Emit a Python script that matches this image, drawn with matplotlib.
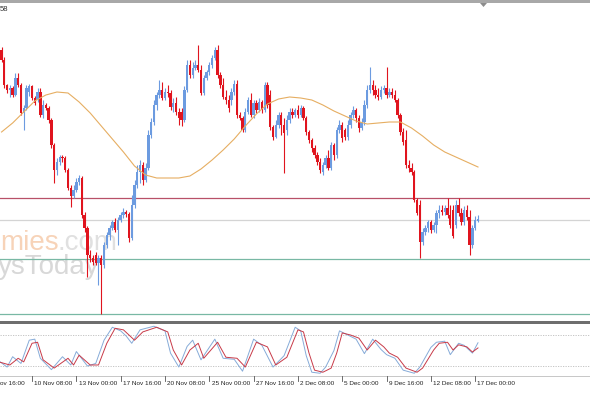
import numpy as np
import matplotlib.pyplot as plt
from matplotlib.patches import Rectangle, Polygon

# ──────────────────────────────────────────────
#  Data (H4 candles, price in chart points)
# ──────────────────────────────────────────────
first_bar = 5

opens = [270, 260, 235, 230, 232, 225, 242, 235, 207, 212,
         228, 234, 222, 220, 228, 205, 215, 212, 200, 175,
         150, 158, 163, 162, 150, 132, 124, 130, 138, 142,
         105, 92, 65, 62, 65, 57, 62, 55, 75, 85,
         92, 98, 90, 100, 105, 108, 106, 82, 115, 135,
         148, 155, 140, 152, 185, 198, 215, 225, 230, 222,
         228, 227, 213, 217, 208, 208, 200, 230, 255, 245,
         252, 255, 250, 227, 242, 248, 255, 262, 270, 245,
         235, 223, 220, 220, 228, 236, 205, 202, 190, 208,
         220, 205, 217, 210, 218, 210, 235, 225, 193, 183,
         195, 205, 195, 190, 200, 208, 205, 210, 205, 212,
         202, 188, 180, 172, 165, 158, 148, 155, 162, 152,
         175, 165, 190, 195, 190, 183, 195, 205, 210, 202,
         192, 198, 215, 230, 235, 230, 225, 223, 230, 232,
         225, 228, 225, 220, 205, 188, 180, 155, 152, 148,
         120, 115, 78, 88, 92, 98, 90, 95, 107, 110,
         108, 112, 105, 110, 95, 115, 107, 98, 110, 103,
         75, 92, 99]

closes = [260, 235, 230, 232, 225, 242, 235, 207, 212, 232,
          234, 222, 217, 228, 205, 215, 212, 200, 175, 150,
          158, 163, 162, 150, 132, 124, 130, 138, 142, 105,
          92, 65, 62, 58, 57, 62, 55, 75, 85, 92,
          98, 90, 100, 105, 108, 106, 82, 115, 135, 148,
          155, 140, 152, 185, 198, 215, 225, 230, 222, 228,
          227, 213, 217, 208, 202, 200, 230, 255, 245, 252,
          255, 250, 227, 242, 248, 255, 262, 270, 245, 235,
          223, 220, 212, 228, 236, 205, 202, 190, 208, 220,
          205, 217, 210, 218, 210, 235, 215, 193, 183, 195,
          205, 195, 187, 200, 208, 205, 210, 205, 212, 202,
          188, 180, 172, 165, 158, 150, 155, 162, 152, 175,
          165, 190, 195, 182, 183, 195, 205, 210, 202, 192,
          198, 215, 230, 235, 230, 225, 223, 230, 232, 225,
          228, 225, 220, 205, 188, 178, 155, 152, 148, 120,
          107, 78, 88, 92, 98, 90, 95, 107, 110, 108,
          112, 105, 95, 84, 115, 107, 98, 110, 103, 75,
          92, 100, 101]

highs = [273, 263, 236, 235, 234, 247, 247, 237, 215, 235,
         236, 235, 224, 232, 232, 220, 217, 214, 202, 177,
         162, 165, 165, 164, 152, 135, 135, 142, 145, 144,
         108, 94, 70, 65, 68, 65, 65, 78, 88, 95,
         100, 102, 103, 108, 112, 110, 108, 125, 140, 155,
         160, 158, 157, 190, 202, 220, 228, 240, 238, 232,
         235, 230, 222, 223, 212, 212, 234, 260, 260, 258,
         260, 275, 255, 245, 250, 258, 265, 273, 275, 248,
         242, 230, 225, 232, 240, 240, 208, 204, 212, 223,
         227, 220, 220, 222, 220, 238, 238, 230, 195, 200,
         208, 208, 202, 205, 212, 212, 212, 215, 215, 214,
         204, 190, 182, 175, 168, 162, 158, 165, 170, 178,
         177, 193, 200, 198, 192, 200, 208, 214, 212, 205,
         202, 220, 235, 253, 240, 235, 232, 234, 235, 253,
         232, 232, 230, 222, 207, 192, 190, 160, 157, 150,
         122, 120, 92, 95, 100, 100, 98, 110, 115, 115,
         115, 122, 115, 115, 120, 122, 112, 114, 115, 110,
         95, 104, 105]

lows = [258, 232, 227, 223, 223, 224, 233, 205, 190, 210,
        224, 220, 215, 218, 203, 202, 210, 197, 172, 137,
        145, 155, 158, 148, 130, 113, 122, 128, 135, 102,
        88, 43, 58, 55, 55, 35, 6, 52, 72, 80,
        90, 88, 75, 98, 102, 103, 78, 80, 112, 132,
        137, 135, 138, 150, 182, 195, 210, 222, 220, 220,
        223, 210, 208, 205, 195, 194, 198, 228, 242, 242,
        250, 248, 225, 225, 240, 245, 252, 260, 242, 232,
        221, 216, 208, 215, 225, 202, 200, 188, 188, 206,
        203, 202, 207, 208, 207, 208, 212, 190, 180, 182,
        192, 185, 147, 185, 197, 202, 203, 202, 203, 200,
        185, 177, 168, 162, 155, 147, 145, 152, 150, 150,
        160, 162, 187, 178, 180, 180, 192, 202, 198, 188,
        190, 195, 212, 227, 225, 222, 220, 221, 227, 222,
        223, 222, 218, 202, 185, 175, 152, 148, 145, 118,
        105, 62, 75, 85, 88, 87, 88, 87, 102, 105,
        105, 102, 92, 82, 92, 104, 95, 95, 100, 65,
        72, 90, 98]

# moving average, read every 4th bar
ma_bars = list(range(5, 178, 4))
ma_vals = [188, 197, 208, 219, 225, 228, 227, 218, 207, 194,
           181, 168, 154, 145, 142, 142, 142, 144, 151, 160,
           170, 181, 194, 206, 216, 221, 223, 222, 220, 215,
           209, 204, 199, 196, 197, 198, 198, 192, 184, 175,
           168, 163, 158, 153]

# horizontal levels
resistance = 122
pivot = 100
support = 61
low_level = 6

# stochastic (%K blue, %D red)
k_bars = [4, 7, 9, 12, 15, 17, 19, 23, 27, 30, 32, 36, 39, 42, 45, 48, 50, 52,
          55, 60, 64, 66, 69, 72, 74, 77, 82, 85, 89, 92, 96, 99, 103, 107,
          111, 113, 115, 117, 120, 122, 125, 127, 130, 133, 136, 139, 142, 144,
          147, 150, 154, 156, 160, 162, 165, 167, 170, 172, 175, 177]
k_vals = [30, 18, 38, 25, 70, 72, 35, 13, 38, 22, 48, 20, 25, 70, 95, 88, 78, 64,
          90, 97, 88, 45, 18, 58, 70, 32, 72, 35, 33, 10, 72, 60, 18, 40,
          95, 88, 40, 8, 6, 18, 50, 88, 80, 72, 44, 72, 52, 42,
          35, 12, 6, 18, 56, 66, 68, 42, 64, 60, 45, 65]
d_bars = [4, 8, 11, 13, 16, 18, 20, 24, 29, 31, 33, 37, 40, 43, 46, 49, 53, 56,
          61, 65, 67, 70, 73, 76, 78, 83, 86, 90, 93, 97, 101, 104, 108, 112,
          114, 116, 118, 121, 124, 126, 128, 131, 134, 137, 140, 143, 145, 148,
          151, 155, 157, 161, 163, 166, 168, 170, 173, 175, 177]
d_vals = [28, 22, 35, 28, 64, 66, 32, 16, 35, 22, 41, 22, 22, 64, 93, 90, 70, 86,
          95, 86, 51, 22, 51, 64, 35, 66, 37, 35, 18, 66, 57, 22, 37, 90,
          86, 45, 12, 8, 16, 45, 84, 80, 74, 51, 70, 57, 45, 37,
          16, 8, 16, 51, 64, 66, 51, 61, 57, 47, 55]
stoch_levels = [80, 20]

tick_bars = [0, 16, 32, 48, 64, 80, 96, 112, 128, 144, 160, 176]
tick_labels = ["5 Nov 16:00", "10 Nov 08:00", "13 Nov 00:00", "17 Nov 16:00",
               "20 Nov 08:00", "25 Nov 00:00", "27 Nov 16:00", "2 Dec 08:00",
               "5 Dec 00:00", "9 Dec 16:00", "12 Dec 08:00", "17 Dec 00:00"]

# ──────────────────────────────────────────────
#  Figure layout (pixel based)
# ──────────────────────────────────────────────
W, H = 590, 393
fig = plt.figure(figsize=(W / 100, H / 100), dpi=100)
fig.patch.set_facecolor("white")
XLIM = (4.44, 217.44)


def panel(top, bottom):
    a = fig.add_axes([0, 1 - bottom / H, 1, (bottom - top) / H])
    a.set_xlim(*XLIM)
    a.axis("off")
    a.patch.set_alpha(0)
    a.set_zorder(2)
    return a


ax = panel(4, 319)
ax.set_ylim(1, 316)
ax_st = panel(324, 376)
ax_st.set_ylim(0.7, 101.3)

# ──────────────────────────────────────────────
#  Main panel: candles, MA, levels
# ──────────────────────────────────────────────
bars = np.arange(first_bar, first_bar + len(closes))
o, c = np.array(opens), np.array(closes)
up = c >= o
col = np.where(up, "#6C9BE0", "#E0141E")

ax.axhline(resistance, color="#B85068", lw=0.9, zorder=1)
ax.axhline(pivot, color="#D4D4D4", lw=0.9, zorder=1)
ax.axhline(support, color="#78B8A4", lw=0.9, zorder=1)
ax.axhline(low_level, color="#78B8A4", lw=0.9, zorder=1)

ax.vlines(bars, lows, highs, colors=col, lw=0.8, zorder=2)
body = np.maximum(np.abs(c - o), 1.0)
ax.bar(bars, body, bottom=np.minimum(o, c), width=0.85, color=col,
       linewidth=0, zorder=3)

ax.plot(ma_bars, ma_vals, color="#E6AE62", lw=0.8, zorder=4)

# watermark (behind the candles)
fig.text(0 / W, 1 - 250 / H, "mies", color="#F7D3B8", fontsize=20,
         family="Liberation Sans", va="baseline", ha="left", zorder=1)
fig.text(57 / W, 1 - 250 / H, ".com", color="#E0E0E0", fontsize=20,
         family="Liberation Sans", va="baseline", ha="left", zorder=1)
fig.text(-2 / W, 1 - 274 / H, "ysToday", color="#D8D8D8", fontsize=20,
         family="Liberation Sans", va="baseline", ha="left", zorder=1)

fig.text(0, 1 - 11 / H, "58", fontsize=5.5, family="Liberation Sans",
         color="#333333", va="baseline")

# ──────────────────────────────────────────────
#  Stochastic panel
# ──────────────────────────────────────────────
for lv in stoch_levels:
    ax_st.axhline(lv, color="#BDBDBD", lw=0.6, ls=(0, (1.5, 1.5)))
ax_st.plot(k_bars, k_vals, color="#86ABD8", lw=0.7)
ax_st.plot(d_bars, d_vals, color="#C83A48", lw=0.7)

# time axis
for b, lab in zip(tick_bars, tick_labels):
    ax_st.plot([b, b], [0.7, -9], color="#555555", lw=0.6, clip_on=False)
    ax_st.text(b + 0.8, -13, lab, fontsize=4.6, family="Liberation Sans",
               color="#222222", ha="left", va="center", clip_on=False)

# frame pieces
fig.add_artist(Rectangle((0, H - 3), W, 3, transform=None,
                         facecolor="#A8A8A8", edgecolor="none"))
fig.add_artist(Rectangle((0, H - 323.5), W, 3, transform=None,
                         facecolor="#6E6E6E", edgecolor="none"))
fig.add_artist(Rectangle((0, H - 377), W, 1, transform=None,
                         facecolor="#C8C8C8", edgecolor="none"))
fig.add_artist(Polygon([[480, H - 3], [487, H - 3], [483.5, H - 7]],
                       closed=True, transform=None,
                       facecolor="#8C8C8C", edgecolor="none"))

fig.savefig("out.png", dpi=100)
